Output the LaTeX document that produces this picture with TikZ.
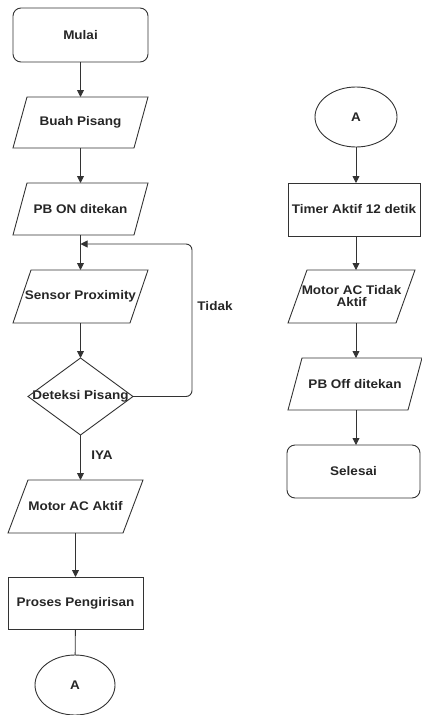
\documentclass[tikz,border=0pt]{standalone}
\usepackage{fontspec}
\setmainfont[FakeStretch=1.08]{Liberation Sans}
\usetikzlibrary{arrows.meta,shapes.geometric}
\definecolor{txt}{HTML}{262626}
\definecolor{ln}{HTML}{333333}
\newcommand\parag[2]{\draw[shp] ([xshift=#2pt]#1.north west) -- (#1.north east) -- ([xshift=-#2pt]#1.south east) -- (#1.south west) -- cycle;}
\begin{document}
\begin{tikzpicture}[x=1pt,y=-1pt,
  every node/.style={font=\fontsize{12.5}{12}\selectfont\bfseries, text=txt},
  blk/.style={inner sep=0pt, outer sep=0pt, align=center},
  shp/.style={draw=ln, line width=0.9pt},
  ell/.style={ellipse, draw=ln, line width=0.9pt, inner sep=0pt, outer sep=0pt},
  arr/.style={draw=ln, line width=0.9pt, -{Triangle[length=7pt,width=7pt]}},
  lnk/.style={draw=ln, line width=0.9pt},
  lbl/.style={inner sep=1pt}]
\useasboundingbox (0,0) rectangle (421,715);
% left column
\node[blk, minimum width=135, minimum height=54] (mulai) at (80.5,35) {Mulai};
\draw[shp, rounded corners=8pt] (mulai.north west) rectangle (mulai.south east);
\node[blk, minimum width=135, minimum height=51] (buah) at (80.5,122.5) {Buah Pisang};
\parag{buah}{14}
\node[blk, minimum width=135, minimum height=52] (pbon) at (80.5,209) {PB ON ditekan};
\parag{pbon}{14}
\node[blk, minimum width=135, minimum height=53] (sensor) at (80.5,296.5) {Sensor Proximity};
\parag{sensor}{18}
\node[blk, minimum width=105, minimum height=77] (det) at (80.5,396.5) {Deteksi Pisang};
\draw[shp] (det.north) -- (det.east) -- (det.south) -- (det.west) -- cycle;
\node[blk, minimum width=135, minimum height=53] (motor) at (75.5,506.5) {Motor AC Aktif};
\parag{motor}{20}
\node[blk, minimum width=135, minimum height=52] (proses) at (75.5,603) {Proses Pengirisan};
\draw[shp] (proses.north west) rectangle (proses.south east);
\node[ell, minimum width=80, minimum height=60] (a1) at (75,685) {A};
% right column
\node[ell, minimum width=82, minimum height=60] (a2) at (356,117) {A};
\node[blk, minimum width=132, minimum height=53] (timer) at (354,209.5) {Timer Aktif 12 detik};
\draw[shp] (timer.north west) rectangle (timer.south east);
\node[blk, minimum width=127, minimum height=53] (motor2) at (351.5,296.5) {Motor AC Tidak\\Aktif};
\parag{motor2}{19}
\node[blk, minimum width=134, minimum height=52] (pboff) at (355,384) {PB Off ditekan};
\parag{pboff}{14}
\node[blk, minimum width=133, minimum height=53] (selesai) at (353.5,471.5) {Selesai};
\draw[shp, rounded corners=8pt] (selesai.north west) rectangle (selesai.south east);
% connectors left
\draw[arr] (mulai) -- (buah);
\draw[arr] (buah) -- (pbon);
\draw[arr] (pbon) -- (sensor);
\draw[arr] (sensor) -- (det);
\coordinate (join) at (80.5,244);
\coordinate (loopc) at (192,244);
\draw[arr, rounded corners=6pt] (det.east) -| (loopc) -- (join);
\node[lbl] (tidak) at (215,306) {Tidak};
\draw[arr] (det.south) -- (det.south |- motor.north);
\node[lbl] (iya) at (102,455) {IYA};
\draw[arr] (motor.south -| proses.north) -- (proses.north);
\draw[lnk] (proses) -- (a1);
% connectors right
\draw[arr] (a2) -- (a2 |- timer.north);
\draw[arr] (a2 |- timer.south) -- (a2 |- motor2.north);
\draw[arr] (a2 |- motor2.south) -- (a2 |- pboff.north);
\draw[arr] (a2 |- pboff.south) -- (a2 |- selesai.north);
\end{tikzpicture}
\end{document}
